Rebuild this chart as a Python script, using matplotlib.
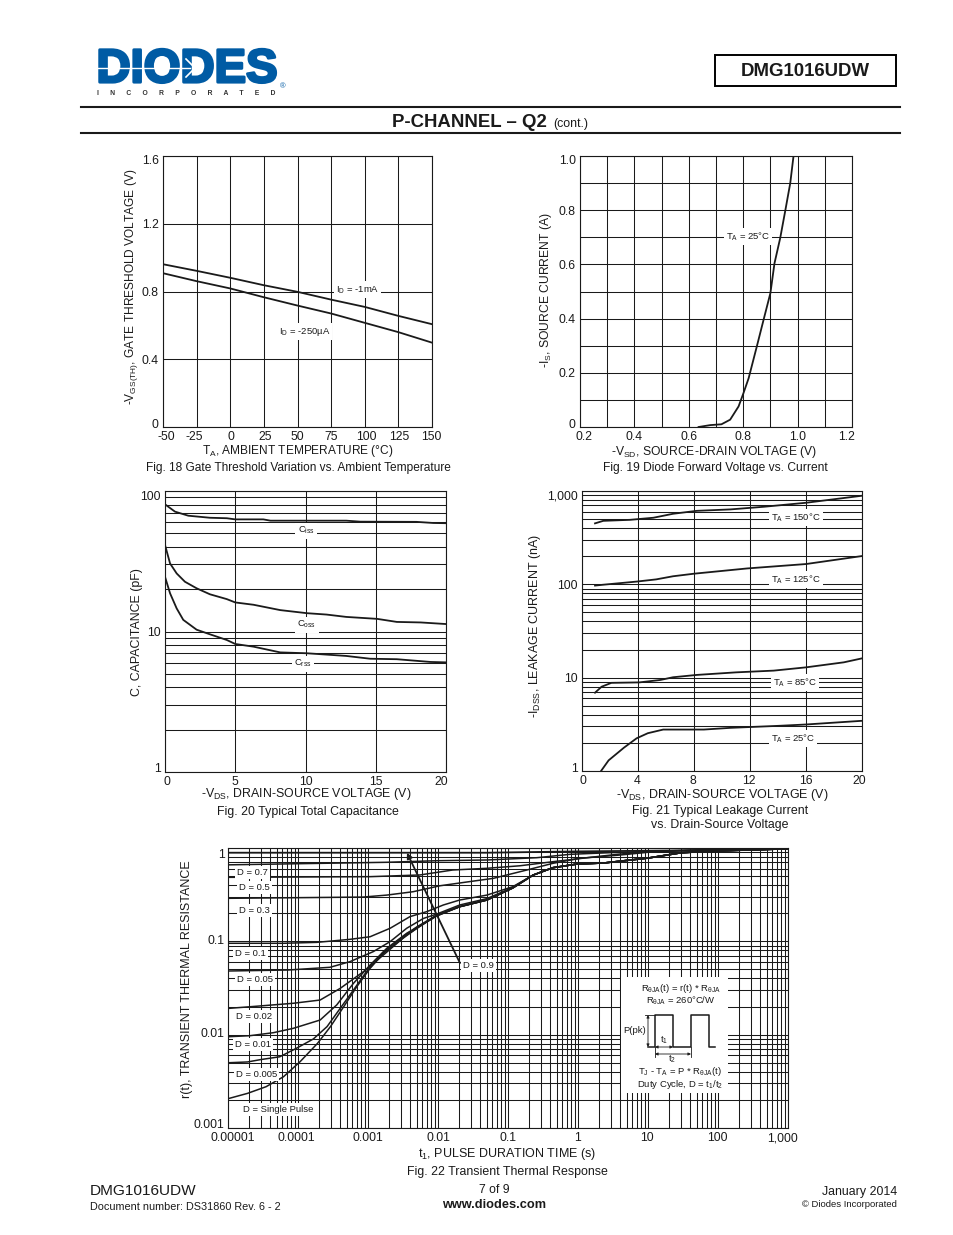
import matplotlib
matplotlib.use("Agg")
from matplotlib import pyplot as plt
from matplotlib.lines import Line2D
from matplotlib.patches import Rectangle, FancyArrowPatch
from matplotlib.ticker import LogLocator, NullFormatter
from matplotlib.transforms import ScaledTranslation
import matplotlib.patheffects as pe

plt.rcParams['font.family'] = ['Liberation Sans', 'DejaVu Sans']
plt.rcParams['mathtext.fontset'] = 'custom'
plt.rcParams['mathtext.rm'] = 'Liberation Sans'
plt.rcParams['mathtext.default'] = 'regular'

W, H = 954, 1235
BLUE = '#005BA4'
INK = '#1a1a1a'
TICK = 8.8
NOTE = 6.8
TOP_ROW = 8.55
REST = 8.95

# Fig. 18
temp = [-50, -25, 0, 25, 50, 75, 100, 125, 150]
vth_1ma = [0.961, 0.922, 0.881, 0.837, 0.798, 0.752, 0.709, 0.656, 0.607]
vth_250ua = [0.908, 0.861, 0.818, 0.766, 0.717, 0.670, 0.615, 0.560, 0.498]

# Fig. 19
vsd = [0.636, 0.679, 0.72, 0.752, 0.783, 0.801, 0.82, 0.85, 0.875, 0.9, 0.915, 0.936, 0.955, 0.973, 0.985]
isd = [0.0, 0.007, 0.01, 0.027, 0.076, 0.125, 0.18, 0.297, 0.396, 0.494, 0.604, 0.697, 0.80, 0.90, 1.0]

# Fig. 20
ciss_v = [0, 0.71, 1.66, 3.2, 4.4, 5, 7, 7.5, 12.9, 13.9, 17.9, 19.1, 20]
ciss = [80.4, 71.3, 66.7, 64.5, 64, 62.8, 62.8, 61.5, 61.5, 60.5, 60.3, 59.2, 59]
coss_v = [0, 0.36, 0.83, 1.42, 2.25, 3.2, 4.4, 5, 6.3, 8.2, 10.1, 11.5, 12.9, 15.1, 16.5, 18.2, 20]
coss = [41.3, 30.5, 25.9, 22.6, 20.3, 18.4, 17, 16.1, 15.5, 14.2, 13.5, 13.2, 12.7, 12.3, 11.7, 11.6, 11.3]
crss_v = [0, 0.36, 0.83, 1.3, 2.25, 3.2, 4.4, 5, 6.3, 8.2, 10.1, 12.9, 14.6, 16.5, 18.9, 20]
crss = [24.5, 18.7, 14.6, 12.1, 10.3, 9.55, 8.7, 8.15, 7.8, 7.1, 7, 6.7, 6.4, 6.35, 6.07, 6.03]

# Fig. 21
i150_v = [0.93, 1.52, 3.43, 5.1, 6.5, 8.2, 10.6, 13, 16, 20]
i150 = [450, 479, 491, 517, 570, 613, 635, 678, 748, 890]
i125_v = [0.93, 1.5, 3.9, 5.3, 6.5, 8, 11.8, 16, 20]
i125 = [97, 99, 107, 113, 122, 130, 148, 165, 201]
i85_v = [0.93, 1.4, 2.1, 4.1, 5.6, 6.5, 8.2, 11, 13.7, 16, 18.7, 20]
i85 = [6.9, 8, 8.8, 8.9, 9.45, 10.1, 10.7, 11.4, 11.9, 12.9, 14.6, 16.1]
i25_v = [1.36, 1.9, 3, 3.9, 4.7, 5.8, 8.7, 10.6, 14.1, 16, 20]
i25 = [1, 1.3, 1.78, 2.24, 2.54, 2.78, 2.78, 2.9, 3.05, 3.15, 3.45]

# Fig. 22
tail_t = [0.0204, 0.05, 0.117, 0.229, 0.437, 0.98, 2.3, 10, 30, 100, 1000]
tail_r = [0.235, 0.277, 0.373, 0.513, 0.615, 0.674, 0.69, 0.78, 0.89, 0.93, 0.98]
single_t = [1e-5, 1.9e-5, 3.5e-5, 6.2e-5, 1.07e-4, 1.9e-4, 2.9e-4, 4.5e-4, 6.9e-4, 1.07e-3, 1.66e-3, 2.9e-3, 5e-3, 9.5e-3]
single_r = [0.00206, 0.00235, 0.00277, 0.00354, 0.00513, 0.00807, 0.01216, 0.01995, 0.0326, 0.0513, 0.0743, 0.103, 0.138, 0.187]
d005_t = [1e-5, 1.9e-5, 2.9e-5, 5.5e-5, 9.5e-5, 1.66e-4, 2.6e-4, 4e-4, 6.2e-4, 9.5e-4, 1.66e-3, 2.9e-3, 5e-3, 9.5e-3]
d005_r = [0.005, 0.0051, 0.0054, 0.0058, 0.00715, 0.009, 0.0122, 0.0191, 0.0301, 0.0473, 0.0765, 0.107, 0.143, 0.19]
d01_t = [1e-5, 2.06e-5, 4.45e-5, 8.6e-5, 2.07e-4, 3.57e-4, 6.2e-4, 1.07e-3, 1.85e-3, 3.57e-3, 9.6e-3]
d01_r = [0.0095, 0.00975, 0.0105, 0.0117, 0.01435, 0.0208, 0.0355, 0.0557, 0.0841, 0.122, 0.187]
d02_t = [1e-5, 2.86e-5, 8.6e-5, 2.07e-4, 4e-4, 8.6e-4, 1.66e-3, 3.57e-3, 9.6e-3]
d02_r = [0.0191, 0.0203, 0.0217, 0.0235, 0.0313, 0.0473, 0.0714, 0.117, 0.191]
d05_t = [1e-5, 7.3e-5, 2.86e-4, 5.5e-4, 1.19e-3, 2.07e-3, 3.57e-3, 6.2e-3, 9.6e-3, 0.0204, 0.05, 0.117]
d05_r = [0.0481, 0.0493, 0.0527, 0.0605, 0.0776, 0.0993, 0.138, 0.176, 0.196, 0.245, 0.287, 0.378]
d1_t = [1e-5, 6.2e-5, 1.85e-4, 5.5e-4, 1.07e-3, 2.07e-3, 3.98e-3, 6.9e-3, 0.0119, 0.0204, 0.05, 0.117]
d1_r = [0.0953, 0.0953, 0.0975, 0.105, 0.112, 0.138, 0.184, 0.208, 0.245, 0.277, 0.313, 0.385]
d3_t = [1e-5, 8.5e-4, 1.86e-3, 4.4e-3, 0.0107, 0.0257, 0.0617, 0.186, 0.437, 1.07, 4, 10, 50, 1000]
d3_r = [0.289, 0.298, 0.313, 0.34, 0.394, 0.432, 0.473, 0.581, 0.685, 0.776, 0.841, 0.9, 0.95, 0.98]
d5_t = [1e-5, 1.07e-3, 5.5e-3, 0.0162, 0.05, 0.148, 0.437, 1.35, 4, 10, 50, 1000]
d5_r = [0.485, 0.493, 0.514, 0.581, 0.606, 0.645, 0.713, 0.787, 0.862, 0.91, 0.95, 0.98]
d7_t = [1e-5, 1.86e-3, 9.8e-3, 0.05, 0.257, 0.776, 4, 10, 50, 1000]
d7_r = [0.66, 0.703, 0.731, 0.744, 0.787, 0.856, 0.9, 0.92, 0.95, 0.98]
d9_t = [1e-5, 0.05, 1, 100, 1000]
d9_r = [0.89, 0.89, 0.92, 0.95, 0.98]


def pos(x, y):
    return x / W, 1 - y / H


def label(x, y, s, ha='left', size=NOTE, box=False, color=INK, **kw):
    if box:
        kw['bbox'] = dict(fc='white', ec='none', pad=1.5)
    fx, fy = pos(x, y + 0.7)
    return fig.text(fx, fy, s, ha=ha, va='center', fontsize=size, color=color, zorder=6, **kw)


def rule(xs, ys, lw=0.75, color=INK, zorder=6):
    fig.add_artist(Line2D([x / W for x in xs], [1 - y / H for y in ys], color=color, lw=lw, zorder=zorder))


def make_axes(left, top, right, bottom):
    ax = fig.add_axes([left / W, 1 - bottom / H, (right - left) / W, (bottom - top) / H])
    ax.set_axisbelow(True)
    ax.tick_params(which='both', length=0, labelsize=TICK, pad=3, colors=INK)
    ax.grid(True, which='both', color=INK, lw=0.75)
    for s in ax.spines.values():
        s.set_linewidth(0.8)
        s.set_color(INK)
    return ax


def place_labels(labels, dx=None, dy=None):
    for i, lab in enumerate(labels):
        ox = dx[i] / 100 if dx else 0
        oy = -dy[i] / 100 if dy else 0
        lab.set_transform(lab.get_transform() + ScaledTranslation(ox, oy, fig.dpi_scale_trans))


def axis_text(ax, xlabel, xpt, ylabel, ypt, size):
    ax.set_xlabel(xlabel, fontsize=size, va='center', ha='center', color=INK)
    ax.xaxis.set_label_coords(*pos(*xpt), transform=fig.transFigure)
    ax.set_ylabel(ylabel, fontsize=size, va='center', ha='center', color=INK)
    ax.yaxis.set_label_coords(*pos(*ypt), transform=fig.transFigure)


fig = plt.figure(figsize=(W / 100, H / 100), dpi=100, facecolor='white')

# page header
label(96.5, 69.5, 'DIODES', size=34, color=BLUE, fontweight='bold',
      path_effects=[pe.withStroke(linewidth=2, foreground=BLUE)])
rule([97, 190], [68, 68], lw=1.0, color='white', zorder=7)
rule([186, 195, 186], [59, 68, 77], lw=1.2, color='white', zorder=7)
label(97, 93, 'I      N      C      O      R      P      O      R      A      T      E      D', size=4.9, fontweight='bold', color='#333333')
label(280, 86.5, '\u00ae', size=5.5, color=BLUE)
fig.add_artist(Rectangle((715 / W, 1 - 86 / H), 181 / W, 31 / H, fill=False, ec='black', lw=1.4,
                         transform=fig.transFigure))
label(805.5, 71, 'DMG1016UDW', ha='center', size=13.4, fontweight='bold')
rule([81, 900], [107, 107], lw=1.5)
rule([81, 900], [133, 133], lw=1.5)
label(392, 122, 'P-CHANNEL \u2013 Q2', size=13.4, fontweight='bold')
label(553, 123, '(cont.)', size=8.9)

# Fig. 18
ax = make_axes(163, 156, 432, 427)
ax.plot(temp, vth_1ma, color=INK, lw=1.3)
ax.plot(temp, vth_250ua, color=INK, lw=1.3)
ax.set_xlim(-50, 150)
ax.set_ylim(0, 1.6)
ax.set_xticks(temp, labels=['-50', '-25', '0', '25', '50', '75', '100', '125', '150'])
ax.set_yticks([0, 0.4, 0.8, 1.2, 1.6], labels=['0', '0.4', '0.8', '1.2', '1.6'])
place_labels(ax.get_xticklabels(), dx=[3, -2, 1, 1, 0, 0, 2, 1, -1])
place_labels(ax.get_yticklabels(), dy=[-4, 0, 0, 0, 4])
axis_text(ax, 'T$_{A}$, AMBIENT TEMPERATURE (\u00b0C)', (298, 451),
          '-V$_{GS(TH)}$, GATE THRESHOLD VOLTAGE (V)', (131, 287), TOP_ROW)
label(298, 467, 'Fig. 18 Gate Threshold Variation vs. Ambient Temperature', ha='center', size=TOP_ROW)
label(336, 289, 'I$_{D}$ = -1mA', box=True)
label(279, 331, 'I$_{D}$ = -250\u00b5A', box=True)

# Fig. 19
ax = make_axes(580, 156, 852, 427)
ax.plot(vsd, isd, color=INK, lw=1.3)
ax.set_xlim(0.2, 1.2)
ax.set_ylim(0, 1.0)
ax.set_xticks([0.2, 0.4, 0.6, 0.8, 1.0, 1.2], labels=['0.2', '0.4', '0.6', '0.8', '1.0', '1.2'])
ax.set_xticks([0.3, 0.5, 0.7, 0.9, 1.1], minor=True)
ax.set_yticks([0, 0.2, 0.4, 0.6, 0.8, 1.0], labels=['0', '0.2', '0.4', '0.6', '0.8', '1.0'])
ax.set_yticks([0.1, 0.3, 0.5, 0.7, 0.9], minor=True)
place_labels(ax.get_xticklabels(), dx=[4, 0, 0, 0, 0, -5])
place_labels(ax.get_yticklabels(), dy=[-3, 0, 0, 0, 0, 3])
axis_text(ax, '-V$_{SD}$, SOURCE-DRAIN VOLTAGE (V)', (714, 452),
          '-I$_{S}$, SOURCE CURRENT (A)', (546, 290), 8.7)
label(715, 467, 'Fig. 19 Diode Forward Voltage vs. Current', ha='center', size=8.65)
label(726, 236, 'T$_{A}$ = 25\u00b0C', box=True)

# Fig. 20
ax = make_axes(165, 491, 446, 772)
ax.set_yscale('log')
ax.plot(ciss_v, ciss, color=INK, lw=1.3)
ax.plot(coss_v, coss, color=INK, lw=1.3)
ax.plot(crss_v, crss, color=INK, lw=1.3)
ax.set_xlim(0, 20)
ax.set_ylim(1, 100)
ax.set_xticks([0, 5, 10, 15, 20], labels=['0', '5', '10', '15', '20'])
ax.set_yticks([1, 10, 100], labels=['1', '10', '100'])
ax.yaxis.set_minor_locator(LogLocator(base=10, subs=range(2, 10), numticks=20))
ax.yaxis.set_minor_formatter(NullFormatter())
place_labels(ax.get_xticklabels(), dx=[2, 0, 0, 0, -5])
place_labels(ax.get_yticklabels(), dy=[-4, 0, 4])
axis_text(ax, '-V$_{DS}$, DRAIN-SOURCE VOLTAGE (V)', (306, 794),
          'C, CAPACITANCE (pF)', (137, 632), REST)
label(308, 811, 'Fig. 20 Typical Total Capacitance', ha='center', size=REST)
label(306, 530, 'C$_{iss}$', ha='center', box=True)
label(307, 624, 'C$_{oss}$', ha='center', box=True)
label(303, 663, 'C$_{rss}$', ha='center', box=True)

# Fig. 21
ax = make_axes(582, 491, 862, 771)
ax.set_yscale('log')
ax.plot(i150_v, i150, color=INK, lw=1.3)
ax.plot(i125_v, i125, color=INK, lw=1.3)
ax.plot(i85_v, i85, color=INK, lw=1.3)
ax.plot(i25_v, i25, color=INK, lw=1.3)
ax.set_xlim(0, 20)
ax.set_ylim(1, 1000)
ax.set_xticks([0, 4, 8, 12, 16, 20], labels=['0', '4', '8', '12', '16', '20'])
ax.set_yticks([1, 10, 100, 1000], labels=['1', '10', '100', '1,000'])
ax.yaxis.set_minor_locator(LogLocator(base=10, subs=range(2, 10), numticks=20))
ax.yaxis.set_minor_formatter(NullFormatter())
place_labels(ax.get_xticklabels(), dx=[1, -1, -1, -1, 0, -3])
place_labels(ax.get_yticklabels(), dy=[-4, 0, 0, 4])
axis_text(ax, '-V$_{DS}$, DRAIN-SOURCE VOLTAGE (V)', (722, 795),
          '-I$_{DSS}$, LEAKAGE CURRENT (nA)', (535, 626), 9.0)
label(720, 810, 'Fig. 21 Typical Leakage Current', ha='center', size=REST)
label(720, 824, 'vs. Drain-Source Voltage', ha='center', size=REST)
label(796, 517, 'T$_{A}$ = 150\u00b0C', ha='center', box=True)
label(796, 579, 'T$_{A}$ = 125\u00b0C', ha='center', box=True)
label(795, 682, 'T$_{A}$ = 85\u00b0C', ha='center', box=True)
label(793, 738, 'T$_{A}$ = 25\u00b0C', ha='center', box=True)

# Fig. 22
ax = make_axes(228, 848, 788, 1128)
ax.set_xscale('log')
ax.set_yscale('log')
ax.tick_params(axis='y', pad=2.5)
ax.plot(single_t + tail_t, single_r + tail_r, color=INK, lw=1.1)
ax.plot(d005_t + tail_t, d005_r + tail_r, color=INK, lw=1.1)
ax.plot(d01_t + tail_t, d01_r + tail_r, color=INK, lw=1.1)
ax.plot(d02_t + tail_t, d02_r + tail_r, color=INK, lw=1.1)
ax.plot(d05_t + tail_t[3:], d05_r + tail_r[3:], color=INK, lw=1.1)
ax.plot(d1_t + tail_t[3:], d1_r + tail_r[3:], color=INK, lw=1.1)
ax.plot(d3_t, d3_r, color=INK, lw=1.1)
ax.plot(d5_t, d5_r, color=INK, lw=1.1)
ax.plot(d7_t, d7_r, color=INK, lw=1.1)
ax.plot(d9_t, d9_r, color=INK, lw=1.3)
ax.set_xlim(1e-5, 1000)
ax.set_ylim(0.001, 1)
ax.set_xticks([1e-5, 1e-4, 1e-3, 1e-2, 1e-1, 1, 10, 100, 1000],
              labels=['0.00001', '0.0001', '0.001', '0.01', '0.1', '1', '10', '100', '1,000'])
ax.set_yticks([0.001, 0.01, 0.1, 1], labels=['0.001', '0.01', '0.1', '1'])
ax.xaxis.set_minor_locator(LogLocator(base=10, subs=range(2, 10), numticks=30))
ax.xaxis.set_minor_formatter(NullFormatter())
ax.yaxis.set_minor_locator(LogLocator(base=10, subs=range(2, 10), numticks=20))
ax.yaxis.set_minor_formatter(NullFormatter())
place_labels(ax.get_xticklabels(), dx=[5, -2, 0, 0, 0, 0, -1, -1, -5])
place_labels(ax.get_yticklabels(), dy=[-5, -2, -2, 5])
axis_text(ax, 't$_{1}$, PULSE DURATION TIME (s)', (507, 1154),
          'r(t), TRANSIENT THERMAL RESISTANCE', (187, 979), 9.0)
ax.annotate('', xy=(0.0036, 0.89), xytext=(0.0206, 0.0585),
            arrowprops=dict(arrowstyle='-|>', color=INK, lw=1.3, shrinkA=0, shrinkB=0, mutation_scale=8), zorder=5)
label(507, 1171, 'Fig. 22 Transient Thermal Response', ha='center', size=REST)
label(463, 965, 'D = 0.9', box=True)
label(237, 872, 'D = 0.7', box=True)
label(239, 887, 'D = 0.5', box=True)
label(239, 910, 'D = 0.3', box=True)
label(235, 953, 'D = 0.1', box=True)
label(237, 979, 'D = 0.05', box=True)
label(236, 1016, 'D = 0.02', box=True)
label(235, 1044, 'D = 0.01', box=True)
label(236, 1074, 'D = 0.005', box=True)
label(243, 1109, 'D = Single Pulse', box=True)

# thermal formula box inside Fig. 22
fig.add_artist(Rectangle((621 / W, 1 - 1093 / H), 107 / W, 116 / H, fc='white', ec='none',
                         transform=fig.transFigure, zorder=5))
label(681, 988, r'R$_{\theta JA}$(t) = r(t) * R$_{\theta JA}$', ha='center')
label(681, 1000, r'R$_{\theta JA}$ = 260$\degree$C/W', ha='center')
label(635, 1030, 'P(pk)', ha='center')
label(664, 1040, 't$_{1}$', ha='center')
label(672, 1059, 't$_{2}$', ha='center')
label(680, 1071, r'T$_{J}$ - T$_{A}$ = P * R$_{\theta JA}$(t)', ha='center')
label(680, 1084, 'Duty Cycle, D = t$_{1}$/t$_{2}$', ha='center')
rule([648, 655, 655, 673, 673, 691, 691, 709, 709, 715],
     [1047, 1047, 1015, 1015, 1047, 1047, 1015, 1015, 1047, 1047], lw=1.1)
rule([645, 655], [1015, 1015], lw=0.6)
rule([655, 655], [1047, 1057], lw=0.6)
rule([691, 691], [1047, 1057], lw=0.6)
for p0, p1 in [((648, 1015), (648, 1047)), ((655, 1047), (673, 1047)), ((655, 1054), (691, 1054))]:
    fig.add_artist(FancyArrowPatch(pos(*p0), pos(*p1), arrowstyle='<|-|>', mutation_scale=4,
                                   lw=0.6, color=INK, shrinkA=0, shrinkB=0,
                                   transform=fig.transFigure, zorder=6))

# page footer
label(90, 1190, 'DMG1016UDW', size=11.1)
label(90, 1206, 'Document number: DS31860 Rev. 6 - 2', size=7.85)
label(494, 1189, '7 of 9', ha='center', size=8.8)
label(494, 1204, 'www.diodes.com', ha='center', size=9.2, fontweight='bold')
label(897, 1191, 'January 2014', ha='right', size=8.9)
label(897, 1204, '\u00a9 Diodes Incorporated', ha='right', size=6.8)

fig.savefig('out.png', dpi=100, facecolor='white')
